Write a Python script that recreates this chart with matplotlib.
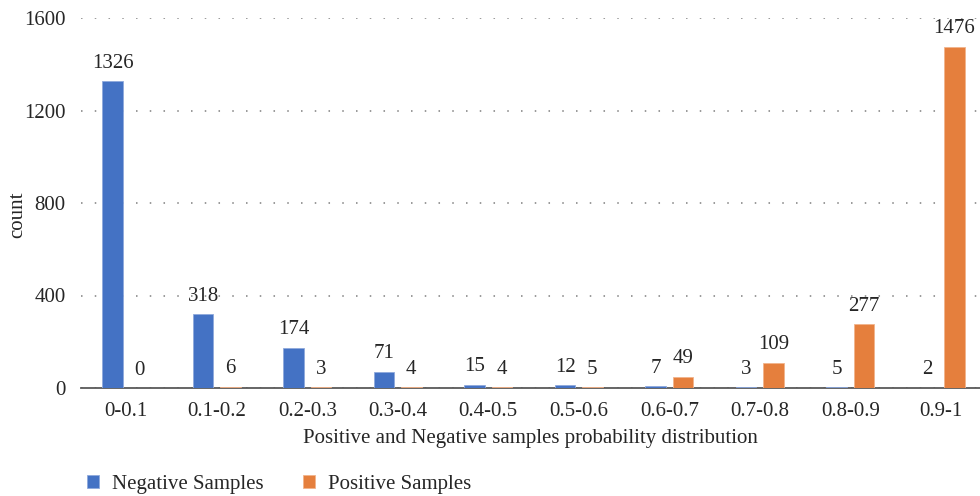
import matplotlib
matplotlib.use("Agg")
import matplotlib.pyplot as plt
import numpy as np

categories = ["0-0.1", "0.1-0.2", "0.2-0.3", "0.3-0.4", "0.4-0.5",
              "0.5-0.6", "0.6-0.7", "0.7-0.8", "0.8-0.9", "0.9-1"]
negative = [1326, 318, 174, 71, 15, 12, 7, 3, 5, 2]
positive = [0, 6, 3, 4, 4, 5, 49, 109, 277, 1476]
y_ticks = [0, 400, 800, 1200, 1600]

plt.rcParams["font.family"] = ["Liberation Serif", "DejaVu Serif"]
FS = 15

BLUE = "#4472C4"
ORANGE = "#E57F3D"
TEXT = "#262626"

fig = plt.figure(figsize=(9.8, 4.96), dpi=100)
ax = fig.add_axes([81 / 980, 1 - 388 / 496, 1 - 81 / 980, (388 - 18) / 496])

x = np.arange(len(categories))
w = 0.225
off = 0.15
b1 = ax.bar(x - off, negative, w, color=BLUE, edgecolor="#8FA9DC", linewidth=0.6,
            label="Negative Samples", zorder=3)
b2 = ax.bar(x + off, positive, w, color=ORANGE, edgecolor="#F2B48C", linewidth=0.6,
            label="Positive Samples", zorder=3)

for bars, vals in ((b1, negative), (b2, positive)):
    for rect, v in zip(bars, vals):
        ax.annotate(str(v), (rect.get_x() + rect.get_width() / 2, v),
                    xytext=(0, 6), textcoords="offset points",
                    ha="center", va="bottom", fontsize=FS, color=TEXT)

ax.set_ylim(0, 1600)
ax.set_xlim(-0.5, 9.5 - 6 / 90.5)
ax.set_yticks(y_ticks)
ax.set_yticklabels([str(t) for t in y_ticks])
ax.set_xticks(x)
ax.set_xticklabels(categories)
ax.tick_params(axis="both", length=0, colors=TEXT, labelsize=FS)
ax.tick_params(axis="y", pad=11)
ax.tick_params(axis="x", pad=10)

for s in ("top", "right", "left"):
    ax.spines[s].set_visible(False)
ax.spines["bottom"].set_color("#595959")
ax.spines["bottom"].set_linewidth(1.3)
ax.spines["bottom"].set_zorder(2.5)

ax.yaxis.grid(True, linestyle=(0, (1, 8)), color="#7F7F7F", linewidth=1.1, zorder=0)
ax.set_axisbelow(True)

ax.set_ylabel("count", fontsize=FS, color=TEXT)
ax.yaxis.set_label_coords(-0.060, 0.468)
ax.set_xlabel("Positive and Negative samples probability distribution",
              fontsize=FS, color=TEXT, labelpad=6)

leg = fig.legend(handles=[b1, b2], loc="lower left", bbox_to_anchor=(68 / 980, -0.034),
                 ncol=2, frameon=False, fontsize=FS, handlelength=0.6, handleheight=0.6,
                 columnspacing=1.9, handletextpad=0.6)
for t in leg.get_texts():
    t.set_color(TEXT)

fig.savefig("out.png", dpi=100)
